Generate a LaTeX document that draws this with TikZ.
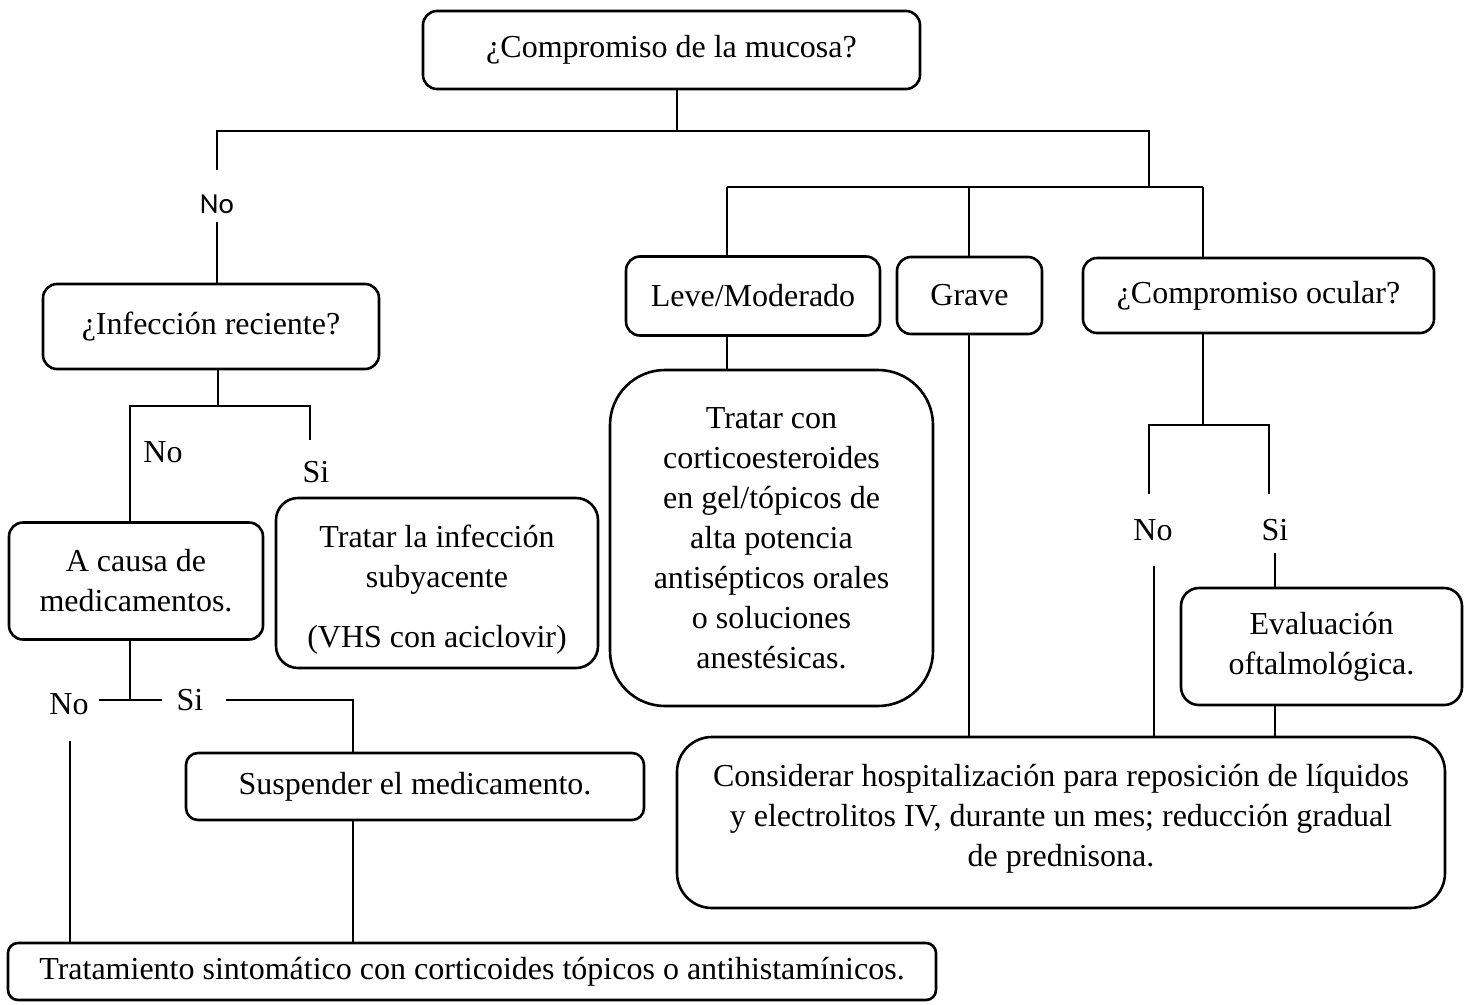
\documentclass[tikz,border=0pt]{standalone}
\usepackage{fontspec}
\setmainfont{Liberation Serif}
\newfontfamily\calib{Carlito}
\begin{document}
\begin{tikzpicture}[x=1pt,y=-1pt,
  box/.style={draw, line width=2.6pt, rounded corners=14pt, align=center, inner sep=0pt, font=\fontsize{32}{40}\selectfont},
  txt/.style={align=center, inner sep=0pt, font=\fontsize{32}{40}\selectfont},
  lab/.style={inner sep=0pt, font=\fontsize{32}{40}\selectfont},
  slab/.style={inner sep=0pt, font=\calib\fontsize{29}{34}\selectfont},
  conn/.style={line width=1.3pt}]
\useasboundingbox (0,0) rectangle (1469,1004);

% boxes
\node[box, minimum width=497pt, minimum height=78pt] (top) at (671.5,50) {¿Compromiso de la mucosa?};
\node[box, minimum width=336pt, minimum height=85pt] (inf) at (211,326.5) {¿Infección reciente?};
\node[box, minimum width=254pt, minimum height=117pt] (causa) at (136,581) {A causa de\\medicamentos.};
\node[box, minimum width=322pt, minimum height=170pt, rounded corners=22pt] (trinf) at (437,583) {};
\node[txt] (trinftxt) at (437,590) {Tratar la infección\\subyacente\\[20pt](VHS con aciclovir)};
\node[box, minimum width=458pt, minimum height=67pt, rounded corners=12pt] (susp) at (415,786.5) {Suspender el medicamento.};
\node[box, minimum width=928pt, minimum height=57pt, rounded corners=10pt] (bot) at (472,971.5) {Tratamiento sintomático con corticoides tópicos o antihistamínicos.};
\node[box, minimum width=254pt, minimum height=79pt] (leve) at (753,296) {Leve/Moderado};
\node[box, minimum width=145pt, minimum height=77pt] (grave) at (969.5,295.5) {Grave};
\node[box, minimum width=351pt, minimum height=75pt] (ocular) at (1258.5,295.5) {¿Compromiso ocular?};
\node[box, minimum width=323pt, minimum height=336pt, rounded corners=55pt] (trcon) at (771.5,538) {};
\node[txt] (trcontxt) at (771.5,538) {Tratar con\\corticoesteroides\\en gel/tópicos de\\alta potencia\\antisépticos orales\\o soluciones\\anestésicas.};
\node[box, minimum width=281pt, minimum height=117pt, rounded corners=18pt] (eval) at (1321.5,646.5) {};
\node[txt] (evaltxt) at (1321.5,647) {Evaluación\\oftalmológica.};
\node[box, minimum width=768pt, minimum height=171pt, rounded corners=35pt] (consid) at (1061,822.5) {};
\node[txt] (considtxt) at (1061,819) {Considerar hospitalización para reposición de líquidos\\y electrolitos IV, durante un mes; reducción gradual\\de prednisona.};

% labels
\node[slab] (no1) at (217,204) {No};
\node[lab] (no2) at (163,452) {No};
\node[lab] (si2) at (316,472) {Si};
\node[lab] (no3) at (69,704) {No};
\node[lab] (si3) at (190,700) {Si};
\node[lab] (no4) at (1153,530) {No};
\node[lab] (si4) at (1275,530) {Si};

% junction coordinates
\coordinate (j1) at (677,131);
\coordinate (jL) at (217,131);
\coordinate (jR) at (1149,131);
\coordinate (jLa) at (217,170);
\coordinate (jLb) at (217,222);
\coordinate (a1) at (218,406);
\coordinate (a1L) at (130,406);
\coordinate (a1R) at (310,406);
\coordinate (a1Re) at (310,440);
\coordinate (b1) at (130,700);
\coordinate (b1L) at (99,700);
\coordinate (b1R) at (162,700);
\coordinate (b2L) at (226,700);
\coordinate (b2R) at (353,700);
\coordinate (b3) at (70,741);
\coordinate (r1) at (1149,187);
\coordinate (r1L) at (727,187);
\coordinate (r1M) at (969,187);
\coordinate (r1R) at (1203,187);
\coordinate (o1) at (1203,425);
\coordinate (o1L) at (1149,425);
\coordinate (o1R) at (1269,425);
\coordinate (o1Le) at (1149,494);
\coordinate (o1Re) at (1269,494);
\coordinate (o2L) at (1154,566);
\coordinate (o2R) at (1275,553);

% connectors
\draw[conn] (top.south -| j1) -- (j1);
\draw[conn] (jLa) -- (jL) -- (jR) -- (r1);
\draw[conn] (jLb) -- (inf.north -| jLb);
\draw[conn] (inf.south -| a1) -- (a1);
\draw[conn] (a1Re) -- (a1R) -- (a1L) -- (causa.north -| a1L);
\draw[conn] (causa.south -| b1) -- (b1);
\draw[conn] (b1L) -- (b1R);
\draw[conn] (b2L) -- (b2R) -- (susp.north -| b2R);
\draw[conn] (b3) -- (bot.north -| b3);
\draw[conn] (susp.south -| b2R) -- (bot.north -| b2R);
\draw[conn] (r1L) -- (r1R);
\draw[conn] (r1L) -- (leve.north -| r1L);
\draw[conn] (r1M) -- (grave.north -| r1M);
\draw[conn] (r1R) -- (ocular.north -| r1R);
\draw[conn] (leve.south -| r1L) -- (trcon.north -| r1L);
\draw[conn] (grave.south -| r1M) -- (consid.north -| r1M);
\draw[conn] (ocular.south -| o1) -- (o1);
\draw[conn] (o1Le) -- (o1L) -- (o1R) -- (o1Re);
\draw[conn] (o2L) -- (consid.north -| o2L);
\draw[conn] (o2R) -- (eval.north -| o2R);
\draw[conn] (eval.south -| o2R) -- (consid.north -| o2R);
\end{tikzpicture}
\end{document}
